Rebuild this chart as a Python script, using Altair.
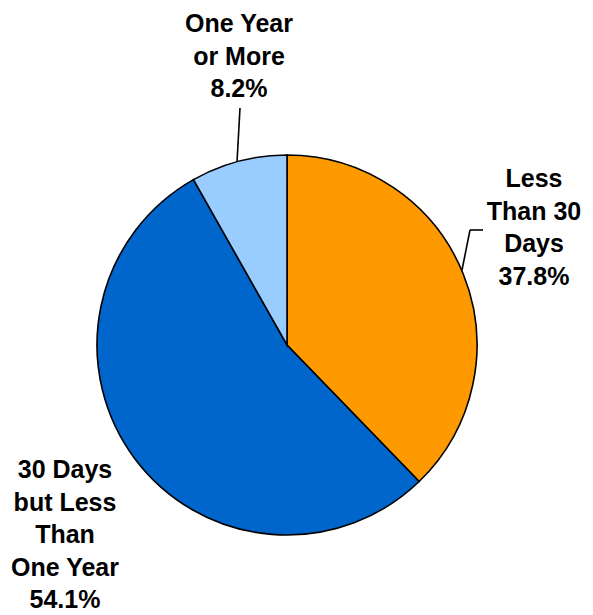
import altair as alt
import pandas as pd

categories = ["Less Than 30 Days", "30 Days but Less Than One Year", "One Year or More"]
values = [37.8, 54.1, 8.2]
labels = [
    "Less\nThan 30\nDays\n37.8%",
    "30 Days\nbut Less\nThan\nOne Year\n54.1%",
    "One Year\nor More\n8.2%",
]
colors = ["#FF9900", "#0066CC", "#99CCFF"]

df = pd.DataFrame({
    "category": categories,
    "value": values,
    "label": labels,
    "order": list(range(len(categories))),
})

CX, CY, R = 279, 337, 190

base = alt.Chart(df)

pie = base.mark_arc(radius=R, stroke="black", strokeWidth=1.6).encode(
    theta=alt.Theta("value:Q", stack=True),
    color=alt.Color("category:N", scale=alt.Scale(domain=categories, range=colors), legend=None),
    order=alt.Order("order:Q"),
    x=alt.value(CX),
    y=alt.value(CY),
)

label_pos = {
    categories[0]: (526, 179),
    categories[1]: (57, 470),
    categories[2]: (231, 24),
}

layers = [pie]
for cat, (lx, ly) in label_pos.items():
    layers.append(
        base.transform_filter(alt.datum.category == cat)
        .mark_text(font="Liberation Sans", fontWeight="bold", fontSize=25,
                   align="center", baseline="alphabetic", lineBreak="\n",
                   lineHeight=32.5, color="black")
        .encode(text="label:N", x=alt.value(lx), y=alt.value(ly))
    )

leaders = [
    ((232, 100), (229, 154)),
    ((475, 222), (462, 222)),
    ((462, 222), (454, 262)),
]
for (x1, y1), (x2, y2) in leaders:
    layers.append(
        base.transform_filter(alt.datum.order == 0)
        .mark_rule(color="black", strokeWidth=1.6)
        .encode(x=alt.value(x1), y=alt.value(y1), x2=alt.value(x2), y2=alt.value(y2))
    )

chart = alt.layer(*layers).properties(
    width=577, height=607, autosize="none", padding=0
).configure_view(stroke=None)

chart.save("out.html", embed_options={"renderer": "svg", "actions": False})
